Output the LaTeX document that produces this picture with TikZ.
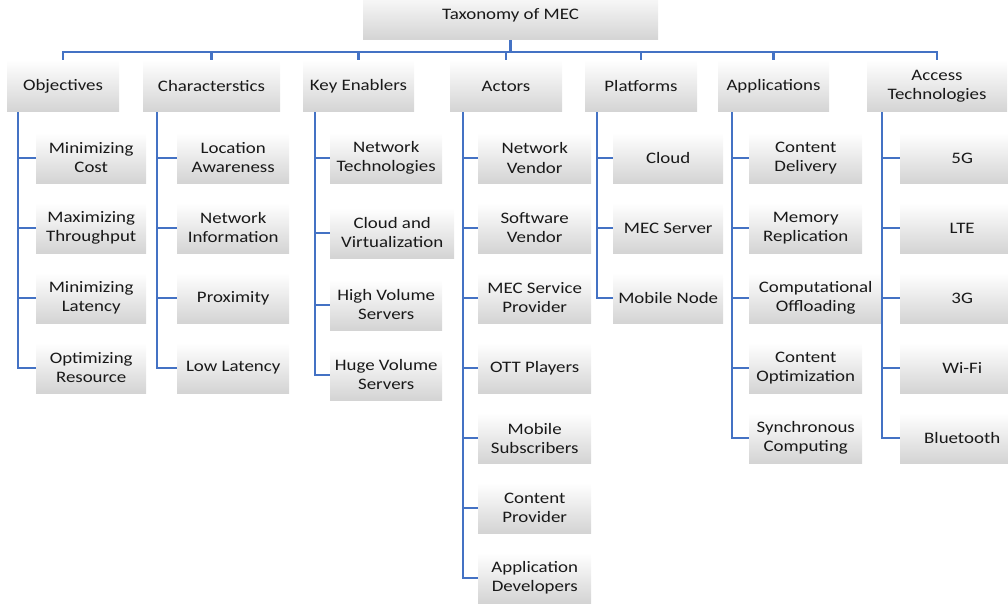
\documentclass[tikz,border=0pt]{standalone}
\usepackage{fontspec}
\setmainfont[FakeStretch=1.18]{Carlito}
\definecolor{lnx}{RGB}{68,114,196}
\colorlet{shx}{black!17}
\tikzset{
    txbox/.style={top color=white,middle color=black!3,bottom color=shx,inner sep=0pt,
        align=center,text=black!90,font=\fontsize{16}{19}\selectfont},
    catbox/.style={txbox,minimum height=52pt},
    leafbox/.style={txbox,anchor=west,minimum height=50pt},
    trunk/.style={lnx,line width=2.6pt},
    branch/.style={lnx,line width=2.4pt}
}

\begin{document}
\begin{tikzpicture}[x=1pt,y=-1pt]
    \useasboundingbox (0,0) rectangle (1008,604);
    % root and categories
    \node [txbox,minimum width=295pt,minimum height=50pt] (root) at (510.5,15) {Taxonomy of MEC};
    \node [catbox,minimum width=112pt] (obj) at (63,86) {Objectives};
    \node [catbox,minimum width=137pt] (cha) at (211.5,86) {Characterstics};
    \node [catbox,minimum width=111pt] (key) at (358.5,86) {Key Enablers};
    \node [catbox,minimum width=112pt] (act) at (506,86) {Actors};
    \node [catbox,minimum width=112pt] (pla) at (641,86) {Platforms};
    \node [catbox,minimum width=111pt] (app) at (773.5,86) {Applications};
    \node [catbox,minimum width=140pt] (acc) at (937,86) {Access\\Technologies};
    % leaves
    \foreach \t [count=\i] in {{Minimizing\\Cost},{Maximizing\\Throughput},
            {Minimizing\\Latency},{Optimizing\\Resource}} {
        \node [leafbox,minimum width=110pt] (obj\i) at (36,88+70*\i) {\t};
    }
    \foreach \t [count=\i] in {{Location\\Awareness},{Network\\Information},
            Proximity,Low Latency} {
        \node [leafbox,minimum width=112pt] (cha\i) at (177,88+70*\i) {\t};
    }
    \foreach \t/\y/\w [count=\i] in {{Network\\Technologies}/158/112,
            {Cloud and\\Virtualization}/233/124,{High Volume\\Servers}/305/112,
            {Huge Volume\\Servers}/375/112} {
        \node [leafbox,minimum width=\w pt] (key\i) at (330,\y) {\t};
    }
    \foreach \t [count=\i] in {{Network\\Vendor},{Software\\Vendor},
            {MEC Service\\Provider},OTT Players,{Mobile\\Subscribers},
            {Content\\Provider},{Application\\Developers}} {
        \node [leafbox,minimum width=113pt] (act\i) at (478,88+70*\i) {\t};
    }
    \foreach \t [count=\i] in {Cloud,MEC Server,Mobile Node} {
        \node [leafbox,minimum width=110pt] (pla\i) at (613,88+70*\i) {\t};
    }
    \foreach \t/\w [count=\i] in {{Content\\Delivery}/113,{Memory\\Replication}/113,
            {Computational\\Offloading}/133,{Content\\Optimization}/113,
            {Synchronous\\Computing}/113} {
        \node [leafbox,minimum width=\w pt] (app\i) at (749,88+70*\i) {\t};
    }
    \foreach \t [count=\i] in {5G,LTE,3G,Wi-Fi,Bluetooth} {
        \node [leafbox,minimum width=124pt] (acc\i) at (900,88+70*\i) {\t};
    }
    % connectors
    \foreach \c in {obj,cha,key,act,pla,app,acc} {
        \draw [trunk] (root.south) -- ++(0,12) -| (\c.north);
    }
    \foreach \c/\n/\s in {obj/4/11,cha/4/14,key/4/12,act/7/13,pla/3/12,app/5/14,acc/5/15} {
        \foreach \i in {1,...,\n} {
            \draw [branch] ([xshift=\s pt]\c.south west) |- (\c\i.west);
        }
    }
\end{tikzpicture}
\end{document}
